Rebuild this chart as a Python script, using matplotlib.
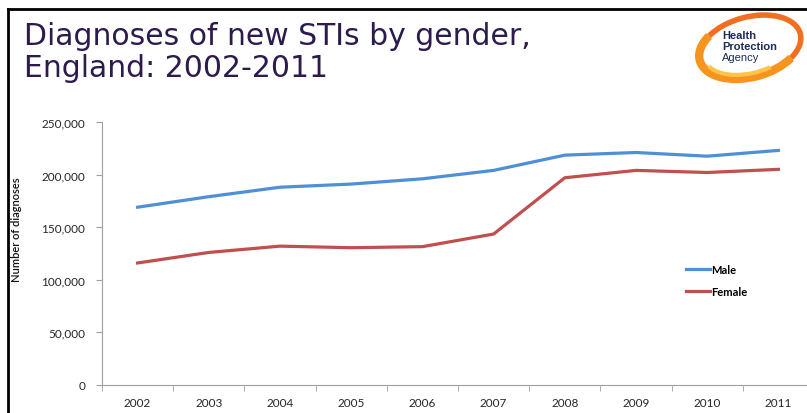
import numpy as np
import matplotlib.pyplot as plt
from matplotlib.patches import Arc
from matplotlib.lines import Line2D

# datos
years = ['2002', '2003', '2004', '2005', '2006', '2007', '2008', '2009', '2010', '2011']
male = [169000, 179000, 188000, 191000, 196000, 204000, 218500, 221000, 217500, 223000]
female = [116000, 126000, 132000, 130500, 131500, 143500, 197000, 204000, 202000, 205000]
yticks = [0, 50000, 100000, 150000, 200000, 250000]

plt.rcParams['font.family'] = ['Liberation Sans', 'DejaVu Sans']

W, H = 807, 414
fig = plt.figure(figsize=(W / 100, H / 100), dpi=100)


def px(x, y):
    # pixeles (origen arriba a la izquierda) -> coordenadas de figura
    return x / W, 1 - y / H


# marco negro de la diapositiva
fig.add_artist(Line2D([8 / W, 8 / W], [0, 1 - 10 / H], color='black', lw=2))
fig.add_artist(Line2D([8 / W, 1], [1 - 10 / H, 1 - 10 / H], color='black', lw=2))

# titulo
fig.text(*px(24, 45), 'Diagnoses of new STIs by gender,', fontsize=21.5,
         family='DejaVu Sans', color='#2d1b4e', va='baseline', ha='left')
fig.text(*px(24, 77), 'England: 2002-2011', fontsize=21.5,
         family='DejaVu Sans', color='#2d1b4e', va='baseline', ha='left')

# logo (aproximado)
lax = fig.add_axes([690 / W, 1 - 86 / H, 117 / W, 76 / H])
lax.set_xlim(0, 117)
lax.set_ylim(0, 76)
lax.axis('off')
lax.add_patch(Arc((60, 38), 104, 60, angle=15, theta1=150, theta2=330,
                  color='#f7941d', lw=6))
lax.add_patch(Arc((60, 38), 104, 60, angle=15, theta1=330, theta2=510,
                  color='#f26f21', lw=4))
lax.add_patch(Arc((60, 38), 94, 52, angle=15, theta1=190, theta2=300,
                  color='#fcc44a', lw=3))
lax.text(32, 50, 'Health', fontsize=8, fontweight='bold', color='#1d2a5b', va='center')
lax.text(32, 39, 'Protection', fontsize=8, fontweight='bold', color='#1d2a5b', va='center')
lax.text(32, 28, 'Agency', fontsize=8, color='#1d2a5b', va='center')

# grafica principal
ax = fig.add_axes([102 / W, 1 - 386 / H, 712 / W, 263 / H])
x = np.arange(len(years))
ax.plot(x, male, color='#4f8fd6', lw=2.3, label='Male')
ax.plot(x, female, color='#c0504d', lw=2.3, label='Female')

ax.set_xlim(-0.5, len(years) - 0.5)
ax.set_ylim(0, 250000)
ax.set_xticks(x)
ax.set_xticklabels(years, family=['Lato', 'DejaVu Sans'])
ax.set_xticks(np.arange(-0.5, len(years), 1), minor=True)
ax.tick_params(axis='x', which='major', length=0, pad=9, labelsize=8.5, colors='#262626')
ax.tick_params(axis='x', which='minor', length=4, color='#a0a0a0')
ax.set_yticks(yticks)
ax.set_yticklabels(['{:,}'.format(v) for v in yticks], family=['Lato', 'DejaVu Sans'])
ax.tick_params(axis='y', length=4, color='#a0a0a0', labelsize=8.5, labelcolor='#262626', pad=8)

for s in ['top', 'right']:
    ax.spines[s].set_visible(False)
ax.spines['left'].set_color('#a0a0a0')
ax.spines['bottom'].set_color('#a0a0a0')

fig.text(*px(17, 230), 'Number of diagnoses', rotation=90, fontsize=8,
         family=['Lato', 'DejaVu Sans'], fontweight='semibold',
         va='center', ha='center', color='#111111')

leg = ax.legend(loc='upper left', bbox_to_anchor=(574 / 712, 1 - 132 / 263), frameon=False,
                handlelength=2.2, handletextpad=0.1, labelspacing=1.0,
                prop={'size': 8, 'weight': 'bold', 'family': ['Lato', 'DejaVu Sans']})

fig.savefig('out.png', dpi=100)
